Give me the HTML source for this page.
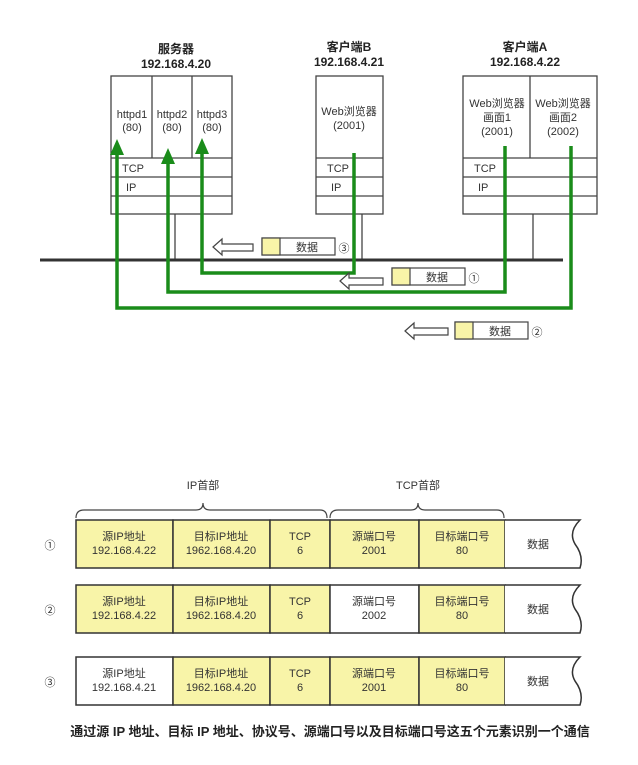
<!DOCTYPE html>
<html><head><meta charset="utf-8"><style>
html,body{margin:0;padding:0;background:#fff;}
svg{display:block;}
text{font-family:"Liberation Sans","Noto Sans CJK SC",sans-serif;fill:#333;}
.b{font-weight:bold;fill:#222;}
</style></head><body>
<svg width="638" height="765" viewBox="0 0 638 765" xmlns="http://www.w3.org/2000/svg">
<g font-size="12" text-anchor="middle">
<text x="176" y="53" class="b">服务器</text>
<text x="176" y="68" class="b">192.168.4.20</text>
<text x="349" y="51" class="b">客户端B</text>
<text x="349" y="66" class="b">192.168.4.21</text>
<text x="525" y="51" class="b">客户端A</text>
<text x="525" y="66" class="b">192.168.4.22</text>
</g>
<g fill="#fff" stroke="#444" stroke-width="1.3">
<rect x="111" y="76" width="121" height="138"/>
<line x1="152" y1="76" x2="152" y2="158"/><line x1="192" y1="76" x2="192" y2="158"/>
<line x1="111" y1="158" x2="232" y2="158"/><line x1="111" y1="177" x2="232" y2="177"/><line x1="111" y1="196" x2="232" y2="196"/>
<rect x="316" y="76" width="67" height="138"/>
<line x1="316" y1="158" x2="383" y2="158"/><line x1="316" y1="177" x2="383" y2="177"/><line x1="316" y1="196" x2="383" y2="196"/>
<rect x="463" y="76" width="134" height="138"/>
<line x1="530" y1="76" x2="530" y2="158"/>
<line x1="463" y1="158" x2="597" y2="158"/><line x1="463" y1="177" x2="597" y2="177"/><line x1="463" y1="196" x2="597" y2="196"/>
<line x1="175" y1="214" x2="175" y2="260"/><line x1="362" y1="214" x2="362" y2="260"/><line x1="533" y1="214" x2="533" y2="260"/>
</g>
<line x1="40" y1="260" x2="563" y2="260" stroke="#333" stroke-width="3"/>
<g font-size="11" text-anchor="middle">
<text x="132" y="118">httpd1</text><text x="132" y="131">(80)</text>
<text x="172" y="118">httpd2</text><text x="172" y="131">(80)</text>
<text x="212" y="118">httpd3</text><text x="212" y="131">(80)</text>
<text x="349" y="115">Web浏览器</text><text x="349" y="129">(2001)</text>
<text x="497" y="107">Web浏览器</text><text x="497" y="121">画面1</text><text x="497" y="135">(2001)</text>
<text x="563" y="107">Web浏览器</text><text x="563" y="121">画面2</text><text x="563" y="135">(2002)</text>
</g>
<g font-size="11">
<text x="122" y="172">TCP</text><text x="126" y="191">IP</text>
<text x="327" y="172">TCP</text><text x="331" y="191">IP</text>
<text x="474" y="172">TCP</text><text x="478" y="191">IP</text>
</g>
<g fill="none" stroke="#1a8c1a" stroke-width="3.5">
<polyline points="354,153 354,273 202,273 202,148"/>
<polyline points="505,146 505,292 168,292 168,160"/>
<polyline points="571,146 571,308 117,308 117,150"/>
</g>
<g fill="#1a8c1a">
<polygon points="202,138 195,154 209,154"/>
<polygon points="168,148 161,164 175,164"/>
<polygon points="117,139 110,155 124,155"/>
</g>
<g stroke="#444" stroke-width="1.2" fill="#fff">
<polygon points="213,247 222,239 222,244 253,244 253,251 222,251 222,255"/>
<polygon points="340,281 349,273 349,278 383,278 383,285 349,285 349,289"/>
<polygon points="405,331 414,323 414,328 448,328 448,335 414,335 414,339"/>
<rect x="262" y="238" width="73" height="17"/>
<rect x="392" y="268" width="73" height="17"/>
<rect x="455" y="322" width="73" height="17"/>
<rect x="262" y="238" width="18" height="17" fill="#f8f4a8"/>
<rect x="392" y="268" width="18" height="17" fill="#f8f4a8"/>
<rect x="455" y="322" width="18" height="17" fill="#f8f4a8"/>
</g>
<g font-size="11" text-anchor="middle">
<text x="307" y="251">数据</text><text x="437" y="281">数据</text><text x="500" y="335">数据</text>
<text x="344" y="252">③</text><text x="474" y="282">①</text><text x="537" y="336">②</text>
</g>
<g fill="none" stroke="#444" stroke-width="1.2">
<path d="M76,518 Q76,510 84,510 L196,510 Q203,510 203,503 Q203,510 210,510 L320,510 Q327,510 327,518"/>
<path d="M330,518 Q330,510 338,510 L411,510 Q418,510 418,503 Q418,510 425,510 L497,510 Q504,510 504,518"/>
</g>
<g font-size="11" text-anchor="middle">
<text x="203" y="489">IP首部</text><text x="418" y="489">TCP首部</text>
</g>
<g stroke="#333" stroke-width="1.5">
<g transform="translate(0,520)">
<rect x="76" y="0" width="97" height="48" fill="#f8f4a8"/><rect x="173" y="0" width="97" height="48" fill="#f8f4a8"/><rect x="270" y="0" width="60" height="48" fill="#f8f4a8"/><rect x="330" y="0" width="89" height="48" fill="#f8f4a8"/><rect x="419" y="0" width="86" height="48" fill="#f8f4a8"/>
<path d="M505,0 L580,0 Q568,12 575,24 Q584,36 580,48 L505,48" fill="#fff"/>
</g>
<g transform="translate(0,585)">
<rect x="76" y="0" width="97" height="48" fill="#f8f4a8"/><rect x="173" y="0" width="97" height="48" fill="#f8f4a8"/><rect x="270" y="0" width="60" height="48" fill="#f8f4a8"/><rect x="330" y="0" width="89" height="48" fill="#fff"/><rect x="419" y="0" width="86" height="48" fill="#f8f4a8"/>
<path d="M505,0 L580,0 Q568,12 575,24 Q584,36 580,48 L505,48" fill="#fff"/>
</g>
<g transform="translate(0,657)">
<rect x="76" y="0" width="97" height="48" fill="#fff"/><rect x="173" y="0" width="97" height="48" fill="#f8f4a8"/><rect x="270" y="0" width="60" height="48" fill="#f8f4a8"/><rect x="330" y="0" width="89" height="48" fill="#f8f4a8"/><rect x="419" y="0" width="86" height="48" fill="#f8f4a8"/>
<path d="M505,0 L580,0 Q568,12 575,24 Q584,36 580,48 L505,48" fill="#fff"/>
</g>
</g>
<g font-size="11" text-anchor="middle">
<g transform="translate(0,520)">
<text x="50" y="29">①</text>
<text x="124" y="20">源IP地址</text><text x="124" y="34">192.168.4.22</text>
<text x="221" y="20">目标IP地址</text><text x="221" y="34">1962.168.4.20</text>
<text x="300" y="20">TCP</text><text x="300" y="34">6</text>
<text x="374" y="20">源端口号</text><text x="374" y="34">2001</text>
<text x="462" y="20">目标端口号</text><text x="462" y="34">80</text>
<text x="538" y="28">数据</text>
</g>
<g transform="translate(0,585)">
<text x="50" y="29">②</text>
<text x="124" y="20">源IP地址</text><text x="124" y="34">192.168.4.22</text>
<text x="221" y="20">目标IP地址</text><text x="221" y="34">1962.168.4.20</text>
<text x="300" y="20">TCP</text><text x="300" y="34">6</text>
<text x="374" y="20">源端口号</text><text x="374" y="34">2002</text>
<text x="462" y="20">目标端口号</text><text x="462" y="34">80</text>
<text x="538" y="28">数据</text>
</g>
<g transform="translate(0,657)">
<text x="50" y="29">③</text>
<text x="124" y="20">源IP地址</text><text x="124" y="34">192.168.4.21</text>
<text x="221" y="20">目标IP地址</text><text x="221" y="34">1962.168.4.20</text>
<text x="300" y="20">TCP</text><text x="300" y="34">6</text>
<text x="374" y="20">源端口号</text><text x="374" y="34">2001</text>
<text x="462" y="20">目标端口号</text><text x="462" y="34">80</text>
<text x="538" y="28">数据</text>
</g>
</g>
<text x="330" y="736" font-size="13" text-anchor="middle" class="b">通过源 IP 地址、目标 IP 地址、协议号、源端口号以及目标端口号这五个元素识别一个通信</text>
</svg>
</body></html>
